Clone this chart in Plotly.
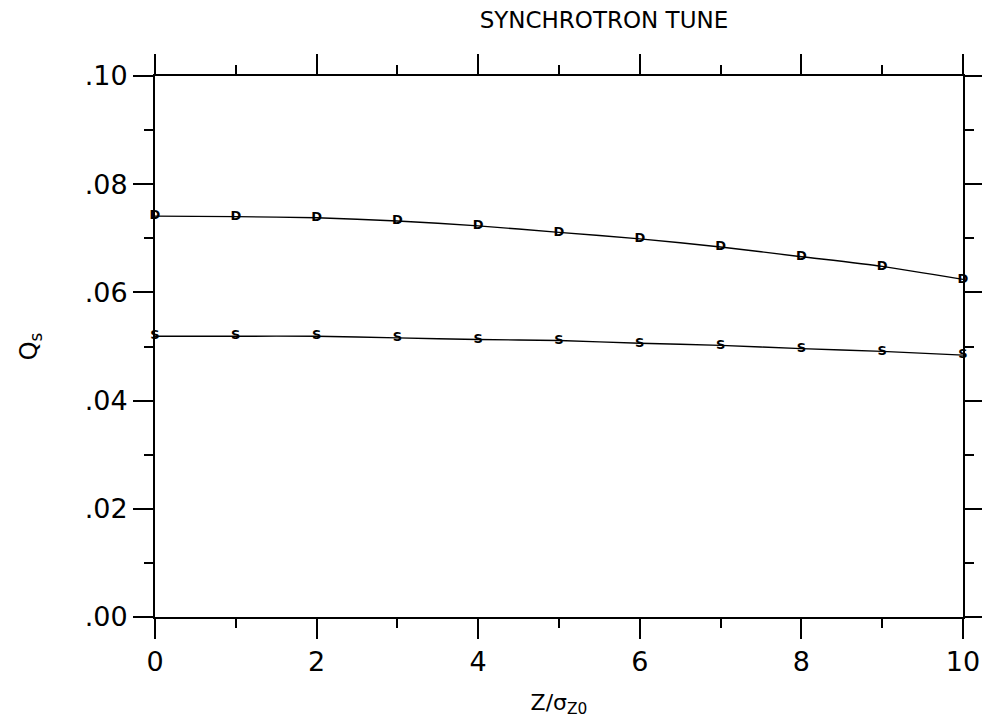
import plotly.graph_objects as go

# Data
x_vals = [0, 1, 2, 3, 4, 5, 6, 7, 8, 9, 10]
d_vals = [0.0741, 0.0740, 0.0738, 0.0732, 0.0723, 0.0711, 0.0699, 0.0684, 0.0666, 0.0648, 0.0624]
s_vals = [0.0519, 0.0519, 0.0519, 0.0516, 0.0513, 0.0511, 0.0506, 0.0502, 0.0496, 0.0491, 0.0484]
y_tickvals = [0.0, 0.02, 0.04, 0.06, 0.08, 0.10]
y_ticktext = [".00", ".02", ".04", ".06", ".08", ".10"]
x_tickvals = [0, 2, 4, 6, 8, 10]
x_ticktext = ["0", "2", "4", "6", "8", "10"]

FONT = "DejaVu Sans"

fig = go.Figure()
for vals, letter in [(d_vals, "D"), (s_vals, "S")]:
    fig.add_trace(go.Scatter(
        x=x_vals, y=vals, mode="lines+text",
        text=[letter] * len(x_vals), textposition="middle center",
        textfont=dict(family=FONT, size=13, color="black", weight="bold"),
        line=dict(color="black", width=1.4, shape="spline", smoothing=0.6),
        showlegend=False, cliponaxis=False,
    ))

axis_common = dict(
    showgrid=False, zeroline=False, showline=True, linecolor="black",
    linewidth=2, mirror="allticks", ticks="outside", ticklen=20,
    tickwidth=1.5, tickcolor="black", automargin=False,
    tickfont=dict(family=FONT, size=27, color="black"),
)

fig.update_xaxes(
    range=[0, 10], tickvals=x_tickvals, ticktext=x_ticktext,
    minor=dict(dtick=1, ticks="outside", ticklen=9, tickwidth=1.5, tickcolor="black"),
    title=dict(text="Z/σ<sub>Z0</sub>", font=dict(family=FONT, size=22, color="black"), standoff=18),
    **axis_common,
)
fig.update_yaxes(
    range=[0, 0.1], tickvals=y_tickvals, ticktext=y_ticktext,
    minor=dict(dtick=0.01, ticks="outside", ticklen=9, tickwidth=1.5, tickcolor="black"),
    title=dict(text="Q<sub>s</sub>", font=dict(family=FONT, size=24, color="black"), standoff=40),
    **axis_common,
)

fig.update_layout(
    width=982, height=726,
    margin=dict(l=155, r=19, t=76, b=109, autoexpand=False),
    paper_bgcolor="white", plot_bgcolor="white",
    title=dict(text="SYNCHROTRON TUNE", x=0.615, xanchor="center", y=0.972, yanchor="middle",
               font=dict(family=FONT, size=23, color="black")),
)

fig.write_html("out.html")
